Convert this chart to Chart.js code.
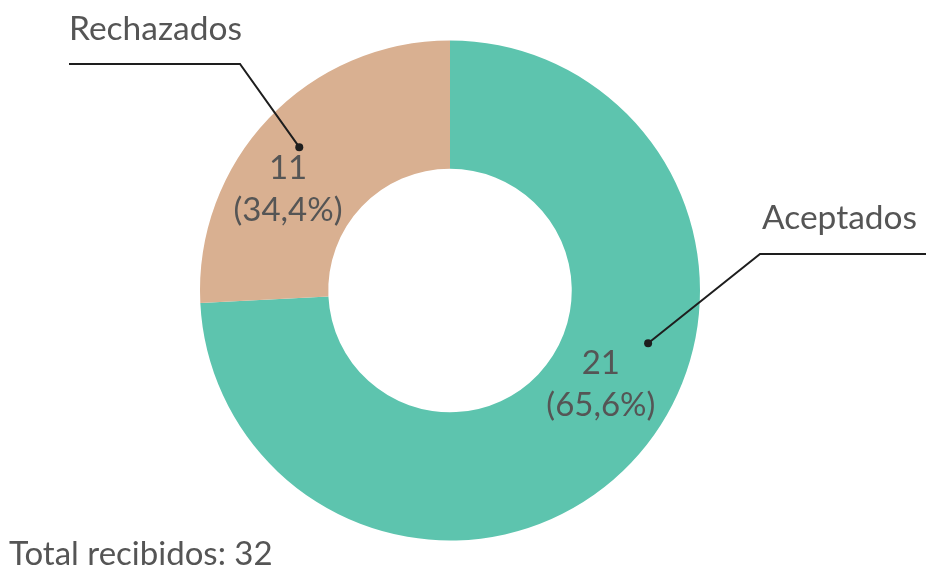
<!DOCTYPE html>
<html>
<head>
<meta charset="utf-8">
<script src="https://cdn.jsdelivr.net/npm/chart.js@4/dist/chart.umd.min.js"></script>
<style>
  html, body { margin: 0; padding: 0; background: #ffffff; }
  #wrap { position: relative; width: 926px; height: 567px; }
</style>
</head>
<body>
<div id="wrap"><canvas id="c" width="926" height="567"></canvas></div>
<script>
// ---- data ----
const categories = ["Aceptados", "Rechazados"];
const counts = [21, 11];                    // numbers printed on the slices
const percentLabels = ["65,6%", "34,4%"];   // percentages printed on the slices
const sliceShares = [74.2, 25.8];           // angular share of each slice as drawn in the picture
const totalLabel = "Total recibidos: 32";
const colors = ["#5DC4AE", "#D9B091"];

const TEXT_COLOR = "#555555";
const FONT = "Lato, 'Open Sans', sans-serif";

// annotation layout (positions, not data)
const annot = [
  { // Aceptados
    inner: { angleDeg: 121.8, rFrac: 0.71 },
    dot: { angleDeg: 104.9, rFrac: 0.82 },
    elbow: { x: 760, y: 254 }, endX: 926,
    text: { x: 762, y: 229, align: "left" }
  },
  { // Rechazados
    inner: { angleDeg: 302, rFrac: 0.764 },
    dot: { angleDeg: null, rFrac: 0.832 },
    elbow: { x: 240, y: 64 }, endX: 69,
    text: { x: 69, y: 40, align: "left" }
  }
];

function polar(cx, cy, r, deg) {
  const a = deg * Math.PI / 180;
  return { x: cx + r * Math.sin(a), y: cy - r * Math.cos(a) };
}

const labelPlugin = {
  id: "labelPlugin",
  afterDatasetsDraw(chart) {
    const ctx = chart.ctx;
    const meta = chart.getDatasetMeta(0);
    ctx.save();
    meta.data.forEach((arc, i) => {
      const cfg = annot[i];
      const cx = arc.x, cy = arc.y, R = arc.outerRadius;
      let dotDeg = cfg.dot.angleDeg;
      if (dotDeg === null) {
        const mid = (arc.startAngle + arc.endAngle) / 2;
        dotDeg = mid * 180 / Math.PI + 90;
      }
      const d = polar(cx, cy, R * cfg.dot.rFrac, dotDeg);
      ctx.strokeStyle = "#1e1e1e";
      ctx.lineWidth = 2;
      ctx.beginPath();
      ctx.moveTo(cfg.endX, cfg.elbow.y);
      ctx.lineTo(cfg.elbow.x, cfg.elbow.y);
      ctx.lineTo(d.x, d.y);
      ctx.stroke();
      ctx.fillStyle = "#1e1e1e";
      ctx.beginPath();
      ctx.arc(d.x, d.y, 4, 0, Math.PI * 2);
      ctx.fill();
      ctx.fillStyle = TEXT_COLOR;
      ctx.font = "33.5px " + FONT;
      ctx.textAlign = cfg.text.align;
      ctx.textBaseline = "alphabetic";
      ctx.fillText(categories[i], cfg.text.x, cfg.text.y);
      const p = polar(cx, cy, R * cfg.inner.rFrac, cfg.inner.angleDeg);
      ctx.font = "33px " + FONT;
      ctx.textAlign = "center";
      ctx.textBaseline = "middle";
      ctx.fillText(String(counts[i]), p.x, p.y - 21);
      ctx.fillText("(" + percentLabels[i] + ")", p.x, p.y + 21);
    });
    ctx.font = "33px " + FONT;
    ctx.textAlign = "left";
    ctx.textBaseline = "alphabetic";
    ctx.fillStyle = TEXT_COLOR;
    ctx.fillText(totalLabel, 9, 565);
    ctx.restore();
  }
};

new Chart(document.getElementById("c"), {
  type: "doughnut",
  data: {
    labels: categories,
    datasets: [{
      data: sliceShares,
      backgroundColor: colors,
      borderWidth: 0,
      hoverOffset: 0
    }]
  },
  options: {
    responsive: false,
    animation: false,
    cutout: "48.7%",
    layout: { padding: { left: 200, right: 226, top: 40.5, bottom: 26.5 } },
    plugins: {
      legend: { display: false },
      tooltip: { enabled: false },
      title: { display: false }
    }
  },
  plugins: [labelPlugin]
});
</script>
</body>
</html>
